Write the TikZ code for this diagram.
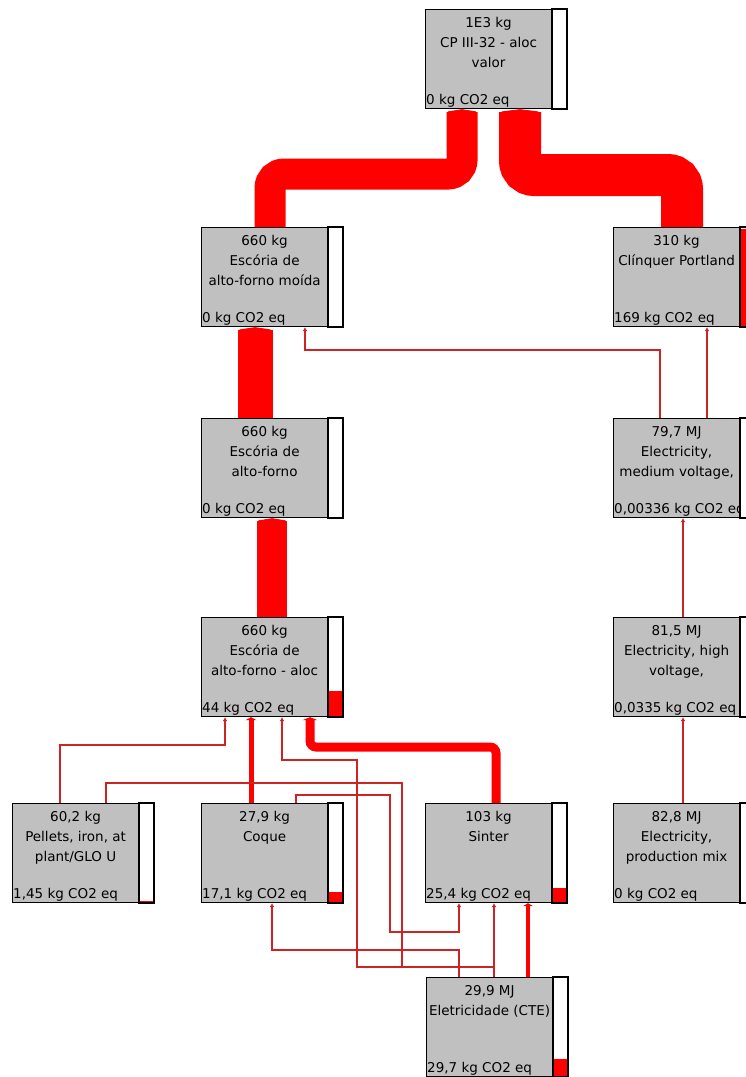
\documentclass[tikz,border=0pt]{standalone}
\usepackage{fontspec}
\setmainfont{DejaVu Sans}
\usetikzlibrary{arrows.meta,calc}
\definecolor{boxgray}{RGB}{192,192,192}
\definecolor{flowred}{RGB}{255,0,0}
\definecolor{thinred}{RGB}{205,35,35}
\tikzset{
  proc/.style={draw=black, line width=1.2pt, fill=boxgray, minimum width=126pt, minimum height=99pt, inner sep=0pt, anchor=north west},
  barframe/.style={draw=black, line width=2pt},
  txt/.style={font=\fontsize{13.5}{16}\selectfont, inner sep=0pt, text=black},
  flow/.style={draw=flowred, line cap=butt, rounded corners=14pt, -{Triangle[length=3pt,width=6pt 1]}},
  thinflow/.style={draw=thinred, line width=1.6pt, -{Latex[length=4pt,width=5pt]}},
}
\newcommand\pbox[8]{%
  \node[proc] (#1) at (#2,#3) {};
  \fill[white] (#1.north east) rectangle ($(#1.south east)+(15,0)$);
  \fill[red] ($(#1.south east)+(1,-1)$) rectangle ($(#1.south east)+(14,-1-97*#8)$);
  \draw[barframe] (#1.north east) rectangle ($(#1.south east)+(15,0)$);
  \begin{scope}
    \clip (#1.north west) rectangle (#1.south east);
    \node[txt, anchor=base] at ($(#1.north)+(0,18)$) {#4};
    \node[txt, anchor=base] at ($(#1.north)+(0,38)$) {#5};
    \node[txt, anchor=base] at ($(#1.north)+(0,58)$) {#6};
    \node[txt, anchor=base west] at ($(#1.south west)+(1,-5)$) {#7};
  \end{scope}
}
\begin{document}
\begin{tikzpicture}[x=1pt,y=-1pt]
\useasboundingbox (0,0) rectangle (746,1077);
\clip (0,0) rectangle (746,1077);
\fill[white] (0,0) rectangle (746,1077);

% boxes
\pbox{top}{425}{9}{1E3 kg}{CP III-32 - aloc}{valor}{0 kg CO2 eq}{0}
\pbox{moida}{201}{227}{660 kg}{Escória de}{alto-forno moída}{0 kg CO2 eq}{0}
\pbox{clinq}{613}{227}{310 kg}{Clínquer Portland}{}{169 kg CO2 eq}{1}
\pbox{af}{201}{418}{660 kg}{Escória de}{alto-forno}{0 kg CO2 eq}{0}
\pbox{elecmed}{613}{418}{79,7 MJ}{Electricity,}{medium voltage,}{0,00336 kg CO2 eq}{0}
\pbox{aloc}{201}{617}{660 kg}{Escória de}{alto-forno - aloc}{44 kg CO2 eq}{0.26}
\pbox{elechigh}{613}{617}{81,5 MJ}{Electricity, high}{voltage,}{0,0335 kg CO2 eq}{0}
\pbox{pellets}{12}{803}{60,2 kg}{Pellets, iron, at}{plant/GLO U}{1,45 kg CO2 eq}{0.009}
\pbox{coque}{201}{803}{27,9 kg}{Coque}{}{17,1 kg CO2 eq}{0.101}
\pbox{sinter}{425}{803}{103 kg}{Sinter}{}{25,4 kg CO2 eq}{0.15}
\pbox{mix}{613}{803}{82,8 MJ}{Electricity,}{production mix}{0 kg CO2 eq}{0}
\pbox{cte}{426}{977}{29,9 MJ}{Eletricidade (CTE)}{}{29,7 kg CO2 eq}{0.176}

% thick flows
\draw[flow, line width=31pt] ($(moida.north west)+(69,0)$) |- (462,174) -- ($(top.south west)+(37,0)$);
\draw[flow, line width=42pt] ($(clinq.north west)+(69,0)$) |- (520,175) -- ($(top.south west)+(95,0)$);
\draw[flow, line width=35pt] ($(af.north west)+(54,0)$) -- ($(moida.south west)+(54,0)$);
\draw[flow, line width=30pt] ($(aloc.north west)+(71,0)$) -- ($(af.south west)+(71,0)$);
\draw[flow, line width=9pt, rounded corners=6pt] ($(sinter.north west)+(71,0)$) |- (310,747) -- ($(aloc.south west)+(109,0)$);
\draw[flow, line width=5pt] ($(coque.north west)+(50,0)$) -- ($(aloc.south west)+(50,0)$);
\draw[flow, line width=4pt] ($(cte.north west)+(102,0)$) -- ($(sinter.south west)+(103,0)$);

% thin flows
\draw[thinflow] ($(elecmed.north west)+(47,0)$) |- (305,350) -- ($(moida.south west)+(104,0)$);
\draw[thinflow] ($(elecmed.north west)+(94,0)$) -- ($(clinq.south west)+(94,0)$);
\draw[thinflow] ($(elechigh.north west)+(70,0)$) -- ($(elecmed.south west)+(70,0)$);
\draw[thinflow, line width=2.2pt] ($(mix.north west)+(70,0)$) -- ($(elechigh.south west)+(70,0)$);
\draw[thinflow] ($(pellets.north west)+(48,0)$) |- (225,745) -- ($(aloc.south west)+(24,0)$);
\draw[thinflow] ($(cte.north west)+(68,0)$) |- (357,967) |- (282,760) -- ($(aloc.south west)+(81,0)$);
\draw[thinflow] ($(pellets.north west)+(94,0)$) |- (402,783) |- (494,967) -- ($(sinter.south west)+(69,0)$);
\draw[thinflow] ($(coque.north west)+(95,0)$) |- (390,795) |- (459,932) -- ($(sinter.south west)+(34,0)$);
\draw[thinflow] ($(cte.north west)+(33,0)$) |- (272,950) -- ($(coque.south west)+(71,0)$);
\end{tikzpicture}
\end{document}
